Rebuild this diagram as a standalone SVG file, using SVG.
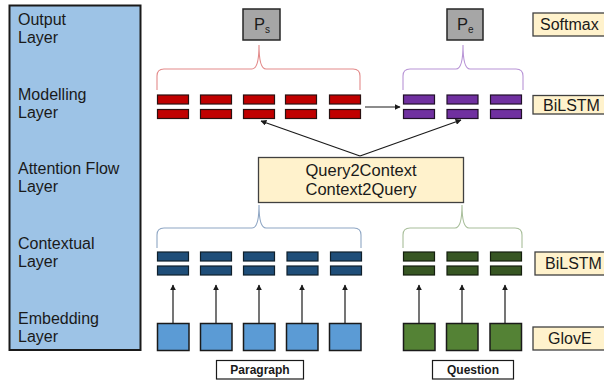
<svg xmlns="http://www.w3.org/2000/svg" width="604" height="381" viewBox="0 0 604 381">
  <style>
    text { font-family: "Liberation Sans", "Open Sans", sans-serif; fill: #1a1a1a; }
    .layer { font-size: 16px; }
    .tag { font-size: 16px; }
    .big { font-size: 16.5px; }
    .small { font-size: 12px; font-weight: bold; }
    .tagbox { fill: #FFF2CC; stroke: #404040; stroke-width: 1.3; }
    .prob { fill: #A6A6A6; stroke: #262626; stroke-width: 1.5; }
    .red { fill: #C00000; stroke: #2a1010; stroke-width: 1.2; }
    .purple { fill: #7030A0; stroke: #201028; stroke-width: 1.2; }
    .dblue { fill: #1F4E79; stroke: #10202c; stroke-width: 1.2; }
    .dgreen { fill: #375623; stroke: #141f0e; stroke-width: 1.2; }
    .eblue { fill: #5B9BD5; stroke: #1a1a1a; stroke-width: 1.5; }
    .egreen { fill: #548235; stroke: #1a1a1a; stroke-width: 1.5; }
    .brace { fill: none; stroke-width: 1.1; }
    .arrow { stroke: #1a1a1a; stroke-width: 1.2; fill: none; marker-end: url(#head); }
  </style>
  <defs>
    <marker id="head" viewBox="0 0 10 10" refX="9" refY="5" markerWidth="6" markerHeight="6" orient="auto" markerUnits="userSpaceOnUse">
      <path d="M0,0 L10,5 L0,10 z" fill="#1a1a1a"/>
    </marker>
  </defs>

  <!-- layer names panel -->
  <g id="layers">
    <rect x="9.5" y="5.5" width="131" height="344.5" fill="#9DC3E6" stroke="#1a1a1a" stroke-width="2"/>
    <text class="layer" x="18" y="25">Output</text>
    <text class="layer" x="18" y="43">Layer</text>
    <text class="layer" x="18" y="100">Modelling</text>
    <text class="layer" x="18" y="118">Layer</text>
    <text class="layer" x="18" y="174">Attention Flow</text>
    <text class="layer" x="18" y="192">Layer</text>
    <text class="layer" x="18" y="249">Contextual</text>
    <text class="layer" x="18" y="267">Layer</text>
    <text class="layer" x="18" y="324">Embedding</text>
    <text class="layer" x="18" y="342">Layer</text>
  </g>

  <!-- output probabilities -->
  <g id="p-start">
    <rect class="prob" x="243" y="9" width="37" height="31"/>
    <text class="big" x="254" y="30">P<tspan font-size="10" dy="3">s</tspan></text>
  </g>
  <g id="p-end">
    <rect class="prob" x="447" y="9" width="36" height="31"/>
    <text class="big" x="457" y="30">P<tspan font-size="10" dy="3">e</tspan></text>
  </g>

  <!-- side tags -->
  <g id="tag-softmax">
    <rect class="tagbox" x="533" y="13" width="80" height="23"/>
    <text class="tag" x="540" y="30">Softmax</text>
  </g>
  <g id="tag-bilstm-model">
    <rect class="tagbox" x="533" y="95.5" width="80" height="18.5"/>
    <text class="tag" x="543" y="110.5">BiLSTM</text>
  </g>
  <g id="tag-bilstm-context">
    <rect class="tagbox" x="535" y="252" width="80" height="23"/>
    <text class="tag" x="545" y="269">BiLSTM</text>
  </g>
  <g id="tag-glove">
    <rect class="tagbox" x="533" y="327" width="80" height="23"/>
    <text class="tag" x="548" y="344">GlovE</text>
  </g>

  <!-- modelling layer, paragraph -->
  <g id="model-paragraph">
    <rect class="red" x="157.5" y="95" width="31" height="9"/>
    <rect class="red" x="157.5" y="109.5" width="31" height="9"/>
    <rect class="red" x="200.5" y="95" width="31" height="9"/>
    <rect class="red" x="200.5" y="109.5" width="31" height="9"/>
    <rect class="red" x="243.5" y="95" width="31" height="9"/>
    <rect class="red" x="243.5" y="109.5" width="31" height="9"/>
    <rect class="red" x="285.5" y="95" width="31" height="9"/>
    <rect class="red" x="285.5" y="109.5" width="31" height="9"/>
    <rect class="red" x="329.5" y="95" width="31" height="9"/>
    <rect class="red" x="329.5" y="109.5" width="31" height="9"/>
  </g>

  <!-- modelling layer, end span -->
  <g id="model-end">
    <rect class="purple" x="403.5" y="95" width="31" height="9"/>
    <rect class="purple" x="403.5" y="109.5" width="31" height="9"/>
    <rect class="purple" x="447" y="95" width="31" height="9"/>
    <rect class="purple" x="447" y="109.5" width="31" height="9"/>
    <rect class="purple" x="490.5" y="95" width="31" height="9"/>
    <rect class="purple" x="490.5" y="109.5" width="31" height="9"/>
  </g>

  <!-- attention flow -->
  <g id="attention">
    <rect class="tagbox" x="258.5" y="157.5" width="205" height="45" stroke-width="1.5"/>
    <text class="big" x="361" y="176" text-anchor="middle">Query2Context</text>
    <text class="big" x="361" y="195" text-anchor="middle">Context2Query</text>
  </g>

  <!-- contextual layer, paragraph -->
  <g id="context-paragraph">
    <rect class="dblue" x="157.5" y="252" width="31" height="9"/>
    <rect class="dblue" x="157.5" y="266" width="31" height="9"/>
    <rect class="dblue" x="200.5" y="252" width="31" height="9"/>
    <rect class="dblue" x="200.5" y="266" width="31" height="9"/>
    <rect class="dblue" x="243.5" y="252" width="31" height="9"/>
    <rect class="dblue" x="243.5" y="266" width="31" height="9"/>
    <rect class="dblue" x="287" y="252" width="31" height="9"/>
    <rect class="dblue" x="287" y="266" width="31" height="9"/>
    <rect class="dblue" x="330.5" y="252" width="31" height="9"/>
    <rect class="dblue" x="330.5" y="266" width="31" height="9"/>
  </g>

  <!-- contextual layer, question -->
  <g id="context-question">
    <rect class="dgreen" x="403.5" y="252" width="31" height="9"/>
    <rect class="dgreen" x="403.5" y="266" width="31" height="9"/>
    <rect class="dgreen" x="447" y="252" width="31" height="9"/>
    <rect class="dgreen" x="447" y="266" width="31" height="9"/>
    <rect class="dgreen" x="490.5" y="252" width="31" height="9"/>
    <rect class="dgreen" x="490.5" y="266" width="31" height="9"/>
  </g>

  <!-- embeddings -->
  <g id="embed-paragraph">
    <rect class="eblue" x="157.5" y="323.5" width="31.5" height="27"/>
    <rect class="eblue" x="200.5" y="323.5" width="31.5" height="27"/>
    <rect class="eblue" x="243.5" y="323.5" width="31.5" height="27"/>
    <rect class="eblue" x="286.5" y="323.5" width="31.5" height="27"/>
    <rect class="eblue" x="329.5" y="323.5" width="31.5" height="27"/>
  </g>
  <g id="embed-question">
    <rect class="egreen" x="403.5" y="323.5" width="31.5" height="27"/>
    <rect class="egreen" x="446.5" y="323.5" width="31.5" height="27"/>
    <rect class="egreen" x="490" y="323.5" width="31.5" height="27"/>
  </g>

  <!-- inputs -->
  <g id="input-paragraph">
    <rect x="216.5" y="360.5" width="87" height="18.5" fill="#ffffff" stroke="#1a1a1a" stroke-width="1.2"/>
    <text class="small" x="260" y="374" text-anchor="middle">Paragraph</text>
  </g>
  <g id="input-question">
    <rect x="432.5" y="360.5" width="81" height="18.5" fill="#ffffff" stroke="#1a1a1a" stroke-width="1.2"/>
    <text class="small" x="473" y="374" text-anchor="middle">Question</text>
  </g>

  <!-- connectors -->
  <g id="connectors">
    <path class="brace" stroke="#E38A8A" d="M157,90 L157,76 Q157,69 164,69 L252,69 Q259,69 259,45 Q259,69 266,69 L353,69 Q360,69 360,76 L360,90"/>
    <path class="brace" stroke="#B894D6" d="M403,90 L403,76 Q403,69 410,69 L456,69 Q463,69 463,45 Q463,69 470,69 L516,69 Q523,69 523,76 L523,90"/>
    <path class="brace" stroke="#8EA6C4" d="M157,248 L157,235 Q157,228 164,228 L252,228 Q259,228 259,205 Q259,228 266,228 L354,228 Q361,228 361,235 L361,248"/>
    <path class="brace" stroke="#A8BE9A" d="M403,248 L403,235 Q403,228 410,228 L455,228 Q462,228 462,205 Q462,228 469,228 L515,228 Q522,228 522,235 L522,248"/>

    <line class="arrow" x1="365" y1="107" x2="400" y2="107"/>
    <line class="arrow" x1="360" y1="156" x2="261" y2="121"/>
    <line class="arrow" x1="360" y1="156" x2="461" y2="120"/>

    <line class="arrow" x1="173" y1="323" x2="173" y2="285"/>
    <line class="arrow" x1="216" y1="323" x2="216" y2="285"/>
    <line class="arrow" x1="259" y1="323" x2="259" y2="285"/>
    <line class="arrow" x1="302" y1="323" x2="302" y2="285"/>
    <line class="arrow" x1="345" y1="323" x2="345" y2="285"/>
    <line class="arrow" x1="419" y1="323" x2="419" y2="285"/>
    <line class="arrow" x1="462" y1="323" x2="462" y2="285"/>
    <line class="arrow" x1="505" y1="323" x2="505" y2="285"/>
  </g>
</svg>
